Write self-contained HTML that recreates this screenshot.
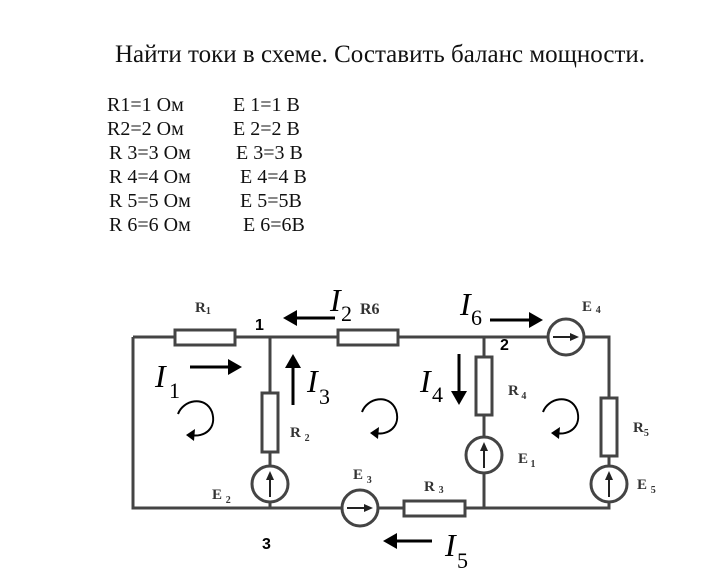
<!DOCTYPE html>
<html><head><meta charset="utf-8"><style>
html,body{margin:0;padding:0;background:#fff;}
svg{display:block}
.t{font-family:"Liberation Serif","DejaVu Serif",serif;fill:#111}
.g{font-family:"Liberation Serif",serif;fill:#333;font-weight:bold;font-size:15px}
.i{font-family:"Liberation Serif",serif;font-style:italic;font-size:32px;fill:#000}
.s{font-family:"Liberation Serif",serif;font-size:22px;fill:#000}
.n{font-family:"Liberation Sans",sans-serif;font-weight:bold;font-size:16px;fill:#000}
</style></head><body>
<svg width="720" height="581" viewBox="0 0 720 581" xmlns="http://www.w3.org/2000/svg">
<text class="t" x="115" y="62" font-size="25" textLength="530" lengthAdjust="spacingAndGlyphs">Найти токи в схеме.  Составить баланс мощности.</text>
<g class="t" font-size="20">
<text x="107" y="111">R1=1 Ом</text><text x="233" y="111">E 1=1 В</text>
<text x="107" y="135">R2=2 Ом</text><text x="233" y="135">E 2=2 В</text>
<text x="109" y="159">R 3=3 Ом</text><text x="236" y="159">E  3=3 В</text>
<text x="109" y="183">R 4=4 Ом</text><text x="240" y="183">E 4=4 В</text>
<text x="109" y="207">R 5=5 Ом</text><text x="240" y="207">E  5=5В</text>
<text x="109" y="231">R 6=6 Ом</text><text x="243" y="231">E 6=6В</text>
</g>
<g stroke="#444" stroke-width="3" fill="none">
<polyline points="133,337 609,337 609,508 133,508 133,337"/>
<line x1="270" y1="337" x2="270" y2="508"/>
<line x1="484" y1="337" x2="484" y2="508"/>
</g>
<g stroke="#444" stroke-width="3" fill="#fff">
<rect x="175" y="330" width="60" height="15"/>
<rect x="338" y="330" width="60" height="15"/>
<rect x="262" y="393" width="16" height="59"/>
<rect x="476" y="357" width="16" height="58"/>
<rect x="601" y="398" width="16" height="58"/>
<rect x="404" y="501" width="61" height="15"/>
<circle cx="566" cy="337" r="18"/>
<circle cx="270" cy="484" r="18"/>
<circle cx="484" cy="455" r="18"/>
<circle cx="609" cy="484" r="18"/>
<circle cx="360" cy="508" r="18"/>
</g>
<g stroke="#222" stroke-width="2" fill="#222">
<line x1="553" y1="337" x2="572" y2="337"/><path d="M579,337 L570,333 L570,341z" stroke="none"/>
<line x1="347" y1="508" x2="366" y2="508"/><path d="M373,508 L364,504 L364,512z" stroke="none"/>
<line x1="270" y1="497" x2="270" y2="478"/><path d="M270,471 L266,480 L274,480z" stroke="none"/>
<line x1="484" y1="468" x2="484" y2="449"/><path d="M484,442 L480,451 L488,451z" stroke="none"/>
<line x1="609" y1="497" x2="609" y2="478"/><path d="M609,471 L605,480 L613,480z" stroke="none"/>
</g>
<g class="g">
<text x="195" y="312">R<tspan font-size="10" dy="2">1</tspan></text>
<text x="360" y="314" font-size="16">R6</text>
<text x="290" y="437">R <tspan font-size="10" dy="4">2</tspan></text>
<text x="508" y="395">R<tspan font-size="10" dy="4"> 4</tspan></text>
<text x="633" y="432">R<tspan font-size="10" dy="4">5</tspan></text>
<text x="212" y="499">E <tspan font-size="10" dy="4">2</tspan></text>
<text x="518" y="463">E<tspan font-size="10" dy="4"> 1</tspan></text>
<text x="637" y="489">E <tspan font-size="10" dy="4">5</tspan></text>
<text x="353" y="479">E <tspan font-size="10" dy="4">3</tspan></text>
<text x="424" y="491">R <tspan font-size="10" dy="2">3</tspan></text>
<text x="582" y="311">E <tspan font-size="10" dy="2">4</tspan></text>
</g>
<text class="n" x="255" y="330">1</text>
<text class="n" x="500" y="350">2</text>
<text class="n" x="262" y="549">3</text>
<g stroke="#000" stroke-width="3" fill="#000">
<line x1="190" y1="367" x2="228" y2="367"/><path d="M242,367 L228,359 L228,375z" stroke="none"/>
<line x1="335" y1="318" x2="297" y2="318"/><path d="M283,318 L297,310 L297,326z" stroke="none"/>
<line x1="293" y1="405" x2="293" y2="368"/><path d="M293,354 L285,368 L301,368z" stroke="none"/>
<line x1="459" y1="354" x2="459" y2="391"/><path d="M459,405 L451,391 L467,391z" stroke="none"/>
<line x1="490" y1="320" x2="529" y2="320"/><path d="M543,320 L529,312 L529,328z" stroke="none"/>
<line x1="432" y1="541" x2="397" y2="541"/><path d="M383,541 L397,533 L397,549z" stroke="none"/>
</g>
<text class="i" x="155" y="387">I</text><text class="s" x="169" y="398">1</text>
<text class="i" x="330" y="311">I</text><text class="s" x="341" y="321">2</text>
<text class="i" x="307" y="392">I</text><text class="s" x="319" y="404">3</text>
<text class="i" x="420" y="392">I</text><text class="s" x="432" y="402">4</text>
<text class="i" x="445" y="556">I</text><text class="s" x="457" y="568">5</text>
<text class="i" x="460" y="315">I</text><text class="s" x="471" y="325">6</text>
<g stroke="#000" stroke-width="2" fill="none">
<path d="M178,414 C183,400 205,395 212,412 C217,428 205,438 190,435"/>
<path d="M362,412 C367,398 389,393 396,410 C401,426 389,436 374,433"/>
<path d="M543,412 C548,398 570,393 577,410 C582,426 570,436 555,433"/>
</g>
<g fill="#000">
<path d="M186,435 L195,429 L194,441z"/>
<path d="M370,433 L379,427 L378,439z"/>
<path d="M551,433 L560,427 L559,439z"/>
</g>
</svg>
</body></html>
